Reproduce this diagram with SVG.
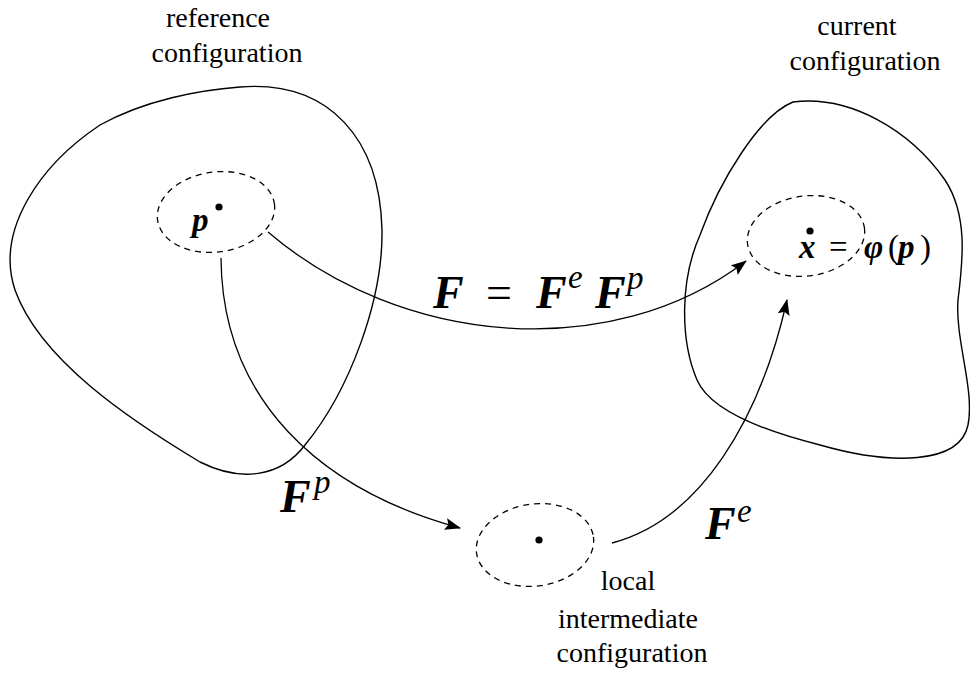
<svg xmlns="http://www.w3.org/2000/svg" width="970" height="678" viewBox="0 0 970 678">
<defs>
<style>
.blob{fill:none;stroke:#000;stroke-width:1.4}
.dash{fill:none;stroke:#000;stroke-width:1.3;stroke-dasharray:6 5}
.conn{fill:none;stroke:#000;stroke-width:1.3;marker-end:url(#ah)}
text{font-family:'Liberation Serif','Times New Roman','DejaVu Serif',serif;fill:#000}
.lbl{font-size:28px;text-anchor:middle}
.bi{font-weight:bold;font-style:italic}
.it{font-style:italic}
</style>
<marker id="ah" viewBox="0 0 16 12" refX="15" refY="6" markerWidth="16" markerHeight="12" markerUnits="userSpaceOnUse" orient="auto">
<path d="M0,0 L16,6 L0,12 L3,6 Z" fill="#000"/>
</marker>
</defs>
<rect width="970" height="678" fill="#fff"/>

<g id="reference">
<path class="blob" d="M 240,87 C 330,80 380,140 382,230 C 383,300 350,390 305,445 C 280,478 240,482 200,462 C 130,420 40,360 15,290 C -5,230 40,165 100,125 C 145,100 200,90 240,87 Z"/>
<ellipse class="dash" cx="216" cy="212" rx="59" ry="40" transform="rotate(-8 216 212)"/>
<circle cx="219" cy="207" r="3.6" fill="#000"/>
<text class="bi" x="192" y="231" font-size="33">p</text>
<text class="lbl" x="218" y="27">reference</text>
<text class="lbl" x="227" y="62">configuration</text>
</g>

<g id="current">
<path class="blob" d="M 793,102 C 850,95 910,130 945,180 C 968,215 963,260 958,300 C 955,340 975,390 968,425 C 960,465 890,465 820,445 C 760,430 710,410 697,380 C 680,340 680,280 700,235 C 720,180 760,115 793,102 Z"/>
<ellipse class="dash" cx="806" cy="236" rx="59" ry="40" transform="rotate(-8 806 236)"/>
<circle cx="810" cy="231" r="3.6" fill="#000"/>
<text x="799" y="258" font-size="33"><tspan class="bi">x</tspan><tspan x="829">=</tspan><tspan x="864" class="bi">φ</tspan><tspan x="888">(</tspan><tspan x="898" class="bi">p</tspan><tspan x="920">)</tspan></text>
<text class="lbl" x="857" y="35">current</text>
<text class="lbl" x="865" y="70">configuration</text>
</g>

<g id="intermediate">
<ellipse class="dash" cx="535" cy="545" rx="59" ry="41" transform="rotate(-8 535 545)"/>
<circle cx="539" cy="540" r="3.6" fill="#000"/>
<text class="lbl" x="628" y="590">local</text>
<text class="lbl" x="628" y="628">intermediate</text>
<text class="lbl" x="632" y="662">configuration</text>
</g>

<g id="connectors">
<path class="conn" d="M 268,232 C 400,345 610,365 746,261"/>
<path class="conn" d="M 221,258 C 222,400 320,490 460,528"/>
<path class="conn" d="M 612,543 C 700,520 760,420 787,300"/>
</g>

<g id="labels">
<text font-size="46" y="308"><tspan x="433" class="bi">F</tspan><tspan x="486">=</tspan><tspan x="536" class="bi">F</tspan><tspan x="568" y="288" font-size="33" class="it">e</tspan><tspan x="595" y="308" class="bi">F</tspan><tspan x="627" y="289" font-size="33" class="it">p</tspan></text>
<text font-size="46" y="512"><tspan x="280" class="bi">F</tspan><tspan x="314" y="493" font-size="33" class="it">p</tspan></text>
<text font-size="46" y="539"><tspan x="705" class="bi">F</tspan><tspan x="737" y="522" font-size="33" class="it">e</tspan></text>
</g>
</svg>
